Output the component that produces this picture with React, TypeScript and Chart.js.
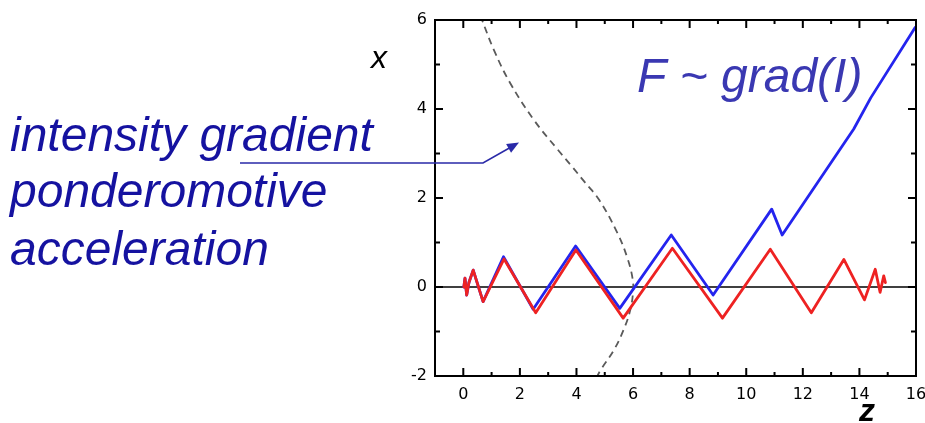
import React, { useEffect, useRef } from "react";
import { Chart, registerables } from "chart.js";

Chart.register(...registerables);

// Electron trajectory without the field gradient (red)
const redZ = [0.02, 0.06, 0.12, 0.2, 0.35, 0.7, 1.44, 2.56, 3.98, 5.65, 7.39, 9.16, 10.85, 12.3, 13.45, 14.18, 14.56, 14.73, 14.86, 14.92];
const redX = [0.0, 0.2, -0.18, 0.1, 0.38, -0.33, 0.63, -0.58, 0.83, -0.7, 0.87, -0.7, 0.85, -0.58, 0.62, -0.29, 0.4, -0.12, 0.25, 0.1];

// Trajectory pushed out by the ponderomotive force (blue)
const blueZ = [0.02, 0.06, 0.12, 0.2, 0.35, 0.7, 1.42, 2.47, 3.97, 5.53, 7.35, 8.83, 10.9, 11.27, 13.8, 14.4, 15.97];
const blueX = [0.0, 0.2, -0.18, 0.1, 0.38, -0.33, 0.68, -0.5, 0.92, -0.48, 1.17, -0.18, 1.75, 1.17, 3.55, 4.25, 5.83];

// Laser intensity profile (dashed)
const profileZ = [0.6, 1.1, 1.66, 2.5, 3.32, 3.85, 4.3, 4.8, 5.45, 5.8, 5.98, 6.0, 5.9, 5.66, 5.32, 4.85, 4.7];
const profileX = [6.1, 5.3, 4.58, 3.75, 3.1, 2.7, 2.35, 1.96, 1.21, 0.65, 0.2, -0.1, -0.52, -0.97, -1.42, -1.87, -2.05];

// Axis baseline x = 0
const axisZ = [-1, 16];
const axisX = [0, 0];

const zTicks = [0, 2, 4, 6, 8, 10, 12, 14, 16];
const xTicks = [-2, 0, 2, 4, 6];

const pts = (zs: number[], xs: number[]) => zs.map((z, i) => ({ x: z, y: xs[i] }));

const NOTE_FONT = "'Liberation Sans', Arial, sans-serif";

const framePlugin = {
  id: "frameAndNotes",
  afterDatasetsDraw(chart: any) {
    const { ctx, chartArea: a, scales } = chart;
    const sx = scales.x;
    const sy = scales.y;
    ctx.save();
    ctx.strokeStyle = "#000";
    ctx.lineWidth = 2;
    ctx.strokeRect(a.left, a.top, a.right - a.left, a.bottom - a.top);
    ctx.beginPath();
    // inward ticks on all four sides: major on labelled values, minor between
    for (let v = -1; v <= 16; v++) {
      const px = sx.getPixelForValue(v);
      const len = v % 2 === 0 ? 8 : 4;
      ctx.moveTo(px, a.bottom);
      ctx.lineTo(px, a.bottom - len);
      ctx.moveTo(px, a.top);
      ctx.lineTo(px, a.top + len);
    }
    for (let v = -2; v <= 6; v++) {
      const py = sy.getPixelForValue(v);
      const len = v % 2 === 0 ? 8 : 5;
      ctx.moveTo(a.left, py);
      ctx.lineTo(a.left + len, py);
      ctx.moveTo(a.right, py);
      ctx.lineTo(a.right - len, py);
    }
    ctx.stroke();
    ctx.restore();
  },
  afterDraw(chart: any) {
    const { ctx } = chart;
    ctx.save();
    ctx.textBaseline = "alphabetic";
    ctx.textAlign = "left";

    // axis names
    ctx.fillStyle = "#000";
    ctx.font = `italic 32px ${NOTE_FONT}`;
    ctx.fillText("x", 371, 68);
    ctx.font = `italic bold 32px ${NOTE_FONT}`;
    ctx.fillText("z", 859, 421);

    // force label
    ctx.fillStyle = "#3a38b2";
    ctx.font = `italic 48px ${NOTE_FONT}`;
    ctx.fillText("F ~ grad(I)", 637, 92);

    // explanatory text
    ctx.fillStyle = "#1512a0";
    ctx.fillText("intensity gradient", 10, 151);
    ctx.fillText("ponderomotive", 10, 207);
    ctx.fillText("acceleration", 10, 265);

    // pointer arrow
    ctx.strokeStyle = "#2a2aa8";
    ctx.fillStyle = "#2a2aa8";
    ctx.lineWidth = 1.6;
    ctx.beginPath();
    ctx.moveTo(240, 163);
    ctx.lineTo(483, 163);
    ctx.lineTo(512, 146.5);
    ctx.stroke();
    const tipX = 519, tipY = 142.5;
    const ang = Math.atan2(tipY - 163, tipX - 483);
    const L = 12, W = 5;
    ctx.beginPath();
    ctx.moveTo(tipX, tipY);
    ctx.lineTo(tipX - L * Math.cos(ang) + W * Math.sin(ang), tipY - L * Math.sin(ang) - W * Math.cos(ang));
    ctx.lineTo(tipX - L * Math.cos(ang) - W * Math.sin(ang), tipY - L * Math.sin(ang) + W * Math.cos(ang));
    ctx.closePath();
    ctx.fill();
    ctx.restore();
  },
};

export default function App() {
  const ref = useRef<HTMLCanvasElement | null>(null);

  useEffect(() => {
    document.body.style.margin = "0";
    const canvas = ref.current;
    if (!canvas) return;
    const chart = new Chart(canvas, {
      type: "scatter",
      data: {
        datasets: [
          {
            data: pts(redZ, redX),
            showLine: true,
            borderColor: "#ee2222",
            borderWidth: 2.8,
            borderJoinStyle: "round",
            borderCapStyle: "round",
            pointRadius: 0,
            order: 0,
          },
          {
            data: pts(blueZ, blueX),
            showLine: true,
            borderColor: "#2424ee",
            borderWidth: 2.8,
            borderJoinStyle: "round",
            borderCapStyle: "round",
            pointRadius: 0,
            order: 1,
          },
          {
            data: pts(profileZ, profileX),
            showLine: true,
            borderColor: "#5a5a5a",
            borderWidth: 1.8,
            borderDash: [7, 5],
            pointRadius: 0,
            tension: 0.4,
            order: 2,
          },
          {
            data: pts(axisZ, axisX),
            showLine: true,
            borderColor: "#000",
            borderWidth: 1.6,
            pointRadius: 0,
            order: 3,
          },
        ],
      },
      options: {
        responsive: false,
        animation: false,
        devicePixelRatio: 1,
        layout: { padding: { left: 395, top: 20, right: 9, bottom: 17 } },
        plugins: { legend: { display: false }, tooltip: { enabled: false } },
        scales: {
          x: {
            type: "linear",
            min: -1,
            max: 16,
            afterBuildTicks: (s: any) => {
              s.ticks = zTicks.map((v) => ({ value: v }));
            },
            afterFit: (s: any) => {
              s.height = 30;
              s.paddingLeft = 0;
              s.paddingRight = 0;
            },
            grid: { display: false, drawTicks: false },
            border: { display: false },
            ticks: {
              color: "#000",
              font: { family: "'DejaVu Sans', sans-serif", size: 16 },
              padding: 9,
              maxRotation: 0,
              autoSkip: false,
            },
          },
          y: {
            type: "linear",
            min: -2,
            max: 6,
            afterBuildTicks: (s: any) => {
              s.ticks = xTicks.map((v) => ({ value: v }));
            },
            afterFit: (s: any) => {
              s.width = 40;
              s.paddingTop = 0;
              s.paddingBottom = 0;
            },
            grid: { display: false, drawTicks: false },
            border: { display: false },
            ticks: {
              color: "#000",
              font: { family: "'DejaVu Sans', sans-serif", size: 16 },
              padding: 8,
              autoSkip: false,
            },
          },
        },
      },
      plugins: [framePlugin],
    });
    return () => chart.destroy();
  }, []);

  return (
    <div style={{ position: "absolute", left: 0, top: 0, width: 925, height: 423, background: "#fff" }}>
      <canvas ref={ref} width={925} height={423} />
    </div>
  );
}
